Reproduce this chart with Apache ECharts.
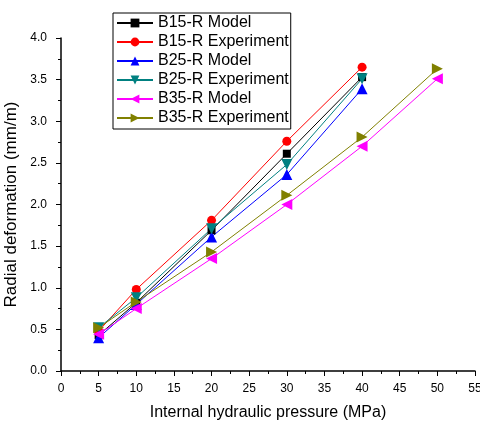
<!DOCTYPE html>
<html><head><meta charset="utf-8">
<script src="https://cdn.jsdelivr.net/npm/echarts@6/dist/echarts.min.js"></script>
<style>html,body{margin:0;padding:0;background:#fff}#c{width:480px;height:422px}</style>
</head><body><div id="c"></div>
<script>
const pressureA = [5, 10, 20, 30, 40];
const pressureB = [5, 10, 20, 30, 40, 50];
const b15Model = [0.43, 0.82, 1.69, 2.61, 3.53];
const b15Exp = [0.48, 0.98, 1.81, 2.76, 3.65];
const b25Model = [0.40, 0.80, 1.61, 2.36, 3.39];
const b25Exp = [0.52, 0.88, 1.71, 2.48, 3.51];
const b35Model = [0.44, 0.75, 1.35, 2.00, 2.70, 3.51];
const b35Exp = [0.52, 0.83, 1.43, 2.11, 2.81, 3.63];
const names = ['B15-R Model','B15-R Experiment','B25-R Model','B25-R Experiment','B35-R Model','B35-R Experiment'];
const colors = ['#000000','#ff0000','#0000ff','#008080','#ff00ff','#808000'];
const symbols = ['rect','circle','triangle','triangle','triangle','triangle'];
const rotations = [0,0,0,180,90,-90];
const xs = [pressureA, pressureA, pressureA, pressureA, pressureB, pressureB];
const ys = [b15Model, b15Exp, b25Model, b25Exp, b35Model, b35Exp];

const font = 'Arial, "Liberation Sans", sans-serif';
const series = names.map((n,i)=>({
  name:n, type:'line',
  data: xs[i].map((x,j)=>[x, ys[i][j]]),
  symbol: symbols[i], symbolRotate: rotations[i],
  symbolSize: symbols[i]==='rect'?8:(symbols[i]==='circle'?9:11),
  lineStyle:{color:colors[i], width:1},
  itemStyle:{color:colors[i]},
  color: colors[i],
  animation:false
}));
const chart = echarts.init(document.getElementById('c'));
chart.setOption({
  animation:false,
  grid:{left:61, right:5, top:38, bottom:51, containLabel:false, outerBoundsMode:'none'},
  legend:{
    left:113, top:13, orient:'vertical',
    itemWidth:36, itemHeight:11, itemGap:3,
    borderColor:'#000', borderWidth:1, padding:[2,2,3,3],
    textStyle:{fontFamily:font, fontSize:16, color:'#000'},
    data: names
  },
  xAxis:{
    type:'value', min:0, max:55, interval:5,
    name:'Internal hydraulic pressure (MPa)', nameLocation:'middle', nameGap:34,
    nameTextStyle:{fontFamily:font, fontSize:16, color:'#000'},
    axisLine:{lineStyle:{color:'#000', width:1.5}},
    axisTick:{show:true, inside:false, length:5, lineStyle:{color:'#000'}},
    minorTick:{show:true, splitNumber:2, length:3, lineStyle:{color:'#000'}},
    axisLabel:{fontFamily:font, fontSize:12, color:'#000', margin:12},
    splitLine:{show:false}
  },
  yAxis:{
    type:'value', min:0, max:4, interval:0.5,
    name:'Radial deformation (mm/m)', nameLocation:'middle', nameGap:35, nameRotate:90,
    nameTextStyle:{fontFamily:font, fontSize:17, color:'#000'},
    axisLine:{show:true, lineStyle:{color:'#000', width:1.5}},
    axisTick:{show:true, inside:false, length:5, lineStyle:{color:'#000'}},
    minorTick:{show:true, splitNumber:2, length:3, lineStyle:{color:'#000'}},
    axisLabel:{fontFamily:font, fontSize:12, color:'#000', margin:14, formatter:v=>v.toFixed(1)},
    splitLine:{show:false}
  },
  series: series
});
</script></body></html>
